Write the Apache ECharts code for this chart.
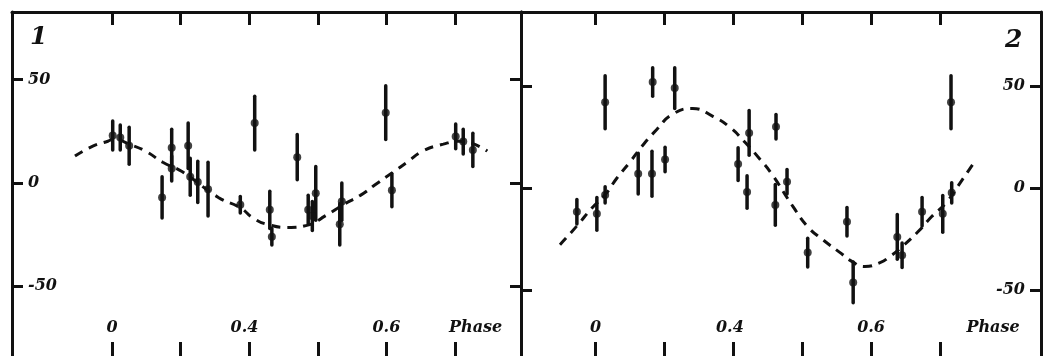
<!DOCTYPE html>
<html>
<head>
<meta charset="utf-8">
<script src="https://cdn.jsdelivr.net/npm/echarts@6/dist/echarts.min.js"></script>
<style>
  html, body { margin: 0; padding: 0; background: #fff; }
  #chart { width: 1046px; height: 356px; }
</style>
</head>
<body>
<div id="chart"></div>
<script>
// phase axis: one unit = one tick step, labels as printed on the figure
var xTicks = [0, 1, 2, 3, 4, 5];
var xLabelPos1 = [0, 1.93, 4, 5.3];
var xLabelPos2 = [0, 1.95, 4, 5.77];
var xLabelText = ['0', '0.4', '0.6', 'Phase'];
var yTicks = [-50, 0, 50];

// panel 1 observations (phase step, velocity, error)
var p1X = [0.01, 0.12, 0.25, 0.73, 0.87, 0.87, 1.11, 1.14, 1.25, 1.40, 1.87, 2.08, 2.30, 2.33,
           2.70, 2.86, 2.92, 2.97, 3.32, 3.35, 3.99, 4.08, 5.01, 5.12, 5.26];
var p1Y = [23, 22, 18, -7, 17, 7, 18, 3, 0.5, -3, -10.5, 29, -13, -26,
           12.5, -13, -16, -5, -20, -9, 34, -3.5, 22.5, 20, 16];
var p1Err = [7, 6, 9, 10, 9, 6, 11, 9, 10, 13, 4, 13, 9, 4,
             11, 7, 7, 13, 10, 9, 13, 8, 6, 6, 8];

// panel 1 fitted curve
var c1X = [-0.54, -0.28, -0.06, 0.01, 0.31, 0.51, 0.74, 1.02, 1.55, 1.87, 2.06, 2.26, 2.57,
           2.84, 3.13, 3.37, 3.62, 3.83, 4.10, 4.30, 4.53, 4.83, 5.07, 5.47];
var c1Y = [13, 17.8, 20.2, 21, 18, 15, 10, 5.5, -7, -12, -17, -20, -21.5,
           -20.5, -15.5, -10.5, -6, -1, 5.3, 10, 15.4, 18.8, 20.2, 15.4];

// panel 2 observations
var p2X = [-0.27, 0.02, 0.14, 0.14, 0.62, 0.82, 1.01, 0.83, 1.15, 2.07, 2.20, 2.23, 2.62, 2.61,
           2.78, 3.08, 3.65, 3.74, 4.38, 4.45, 4.74, 5.04, 5.17, 5.16];
var p2Y = [-11.7, -12.7, -3.4, 42, 7, 7, 14, 52, 49, 11.7, -2, 27, 30, -8.3,
           3, -31.7, -16.6, -46.3, -24, -33, -11.7, -12.7, -2.4, 42];
var p2Err = [6, 8, 4, 13, 10, 11, 6, 7, 10, 8, 8, 11, 6, 10,
             6, 7, 7, 10, 11, 6, 7, 9, 5, 13];

// panel 2 fitted curve
var c2X = [-0.515, -0.254, -0.051, 0.138, 0.312, 0.50, 0.675, 0.893, 1.11, 1.41, 1.71, 1.95,
           2.17, 2.39, 2.56, 2.87, 3.08, 3.30, 3.55, 3.72, 3.91, 4.13, 4.27, 4.45, 4.68, 4.88,
           5.10, 5.32, 5.51];
var c2Y = [-27.8, -18, -9.8, -3.4, 4.9, 12.7, 20.5, 28.8, 36, 39, 35, 29.8,
           22.4, 14, 6.8, -9.3, -19, -25.4, -31.7, -36, -38.5, -36.6, -33.7, -28.8, -21.5, -14,
           -6.8, 3.9, 13.2];

var INK = '#111';
var FONT = 'DejaVu Serif';

function pairs(xs, ys, es) {
    var out = [];
    for (var i = 0; i < xs.length; i++) {
        out.push(es ? [xs[i], ys[i], es[i]] : [xs[i], ys[i]]);
    }
    return out;
}

function renderErr(params, api) {
    var x = api.value(0), y = api.value(1), e = api.value(2);
    var a = api.coord([x, y + e]);
    var b = api.coord([x, y - e]);
    return {
        type: 'line',
        shape: { x1: a[0], y1: a[1], x2: b[0], y2: b[1] },
        style: { stroke: INK, lineWidth: 3.5, lineCap: 'round' }
    };
}

function xLabelFmt(pos) {
    return function (v) {
        for (var i = 0; i < pos.length; i++) {
            if (Math.abs(pos[i] - v) < 1e-6) return xLabelText[i];
        }
        return '';
    };
}

function bottomX(grid, min, max, pos) {
    return {
        type: 'value', gridIndex: grid, position: 'bottom', min: min, max: max,
        axisLine: { show: false, onZero: false },
        axisTick: { inside: true, length: 14, customValues: xTicks, lineStyle: { color: INK, width: 3 } },
        axisLabel: {
            inside: true, margin: 20, customValues: pos, formatter: xLabelFmt(pos),
            color: INK, fontFamily: FONT, fontStyle: 'italic', fontWeight: 'bold', fontSize: 16
        },
        splitLine: { show: false }
    };
}

function topX(grid, min, max) {
    return {
        type: 'value', gridIndex: grid, position: 'top', min: min, max: max,
        axisLine: { show: true, onZero: false, lineStyle: { color: INK, width: 3 } },
        axisTick: { inside: true, length: 13, customValues: xTicks, lineStyle: { color: INK, width: 3 } },
        axisLabel: { show: false },
        splitLine: { show: false }
    };
}

function sideY(grid, pos, min, max, labels) {
    return {
        type: 'value', gridIndex: grid, position: pos, min: min, max: max,
        axisLine: { show: true, onZero: false, lineStyle: { color: INK, width: 3 } },
        axisTick: { inside: true, length: 11, customValues: yTicks, lineStyle: { color: INK, width: 3 } },
        axisLabel: {
            show: labels, inside: true, margin: 16, customValues: yTicks,
            color: INK, fontFamily: FONT, fontStyle: 'italic', fontWeight: 'bold', fontSize: 16
        },
        splitLine: { show: false }
    };
}

var chart = echarts.init(document.getElementById('chart'), null, { renderer: 'canvas' });

var y1Min = -83.7, y1Max = 82.7;
var y2Min = -82.4, y2Max = 86.3;
var x1Min = -1.458, x1Max = 5.962;
var x2Min = -1.081, x2Max = 6.466;

chart.setOption({
    animation: false,
    backgroundColor: '#fff',
    grid: [
        { left: 12, top: 12, width: 509, height: 346 },
        { left: 521, top: 12, width: 520, height: 346 }
    ],
    xAxis: [
        bottomX(0, x1Min, x1Max, xLabelPos1),
        topX(0, x1Min, x1Max),
        bottomX(1, x2Min, x2Max, xLabelPos2),
        topX(1, x2Min, x2Max)
    ],
    yAxis: [
        sideY(0, 'left', y1Min, y1Max, true),
        sideY(0, 'right', y1Min, y1Max, false),
        sideY(1, 'left', y2Min, y2Max, false),
        sideY(1, 'right', y2Min, y2Max, true)
    ],
    graphic: [
        { type: 'text', left: 30, top: 25, style: { text: '1', fill: INK, font: 'italic bold 25px "DejaVu Serif"' } },
        { type: 'text', left: 1005, top: 28, style: { text: '2', fill: INK, font: 'italic bold 25px "DejaVu Serif"' } }
    ],
    series: [
        {
            type: 'line', xAxisIndex: 0, yAxisIndex: 0, data: pairs(c1X, c1Y), smooth: true,
            symbol: 'none', lineStyle: { color: INK, width: 3, type: [9, 7] }
        },
        {
            type: 'custom', xAxisIndex: 0, yAxisIndex: 0, data: pairs(p1X, p1Y, p1Err),
            renderItem: renderErr
        },
        {
            type: 'scatter', xAxisIndex: 0, yAxisIndex: 0, data: pairs(p1X, p1Y), symbolSize: 8,
            itemStyle: { color: INK }
        },
        {
            type: 'line', xAxisIndex: 2, yAxisIndex: 2, data: pairs(c2X, c2Y), smooth: true,
            symbol: 'none', lineStyle: { color: INK, width: 3, type: [9, 7] }
        },
        {
            type: 'custom', xAxisIndex: 2, yAxisIndex: 2, data: pairs(p2X, p2Y, p2Err),
            renderItem: renderErr
        },
        {
            type: 'scatter', xAxisIndex: 2, yAxisIndex: 2, data: pairs(p2X, p2Y), symbolSize: 8,
            itemStyle: { color: INK }
        }
    ]
});
</script>
</body>
</html>
